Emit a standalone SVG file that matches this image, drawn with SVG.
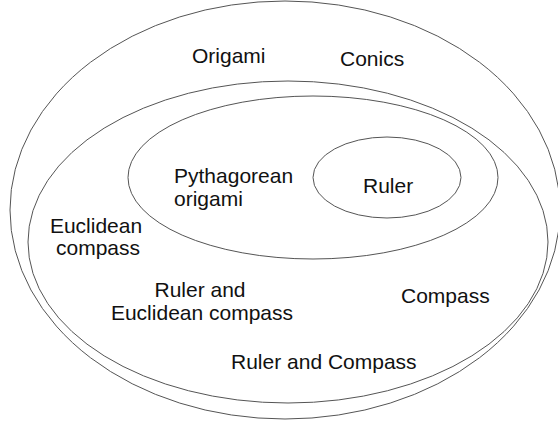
<svg xmlns="http://www.w3.org/2000/svg" width="558" height="426" viewBox="0 0 558 426">
<style>
.e{fill:none;stroke:#555;stroke-width:1}
text{font-family:"Liberation Sans",Arial,sans-serif;font-size:21px;fill:#111}
.m{text-anchor:middle}
</style>
<rect width="558" height="426" fill="#fff"/>
<g id="origami">
<ellipse class="e" cx="285" cy="210" rx="275" ry="209"/>
<text x="192" y="63">Origami</text>
<text x="340" y="66">Conics</text>
</g>
<g id="ruler-compass">
<ellipse class="e" cx="288" cy="242" rx="260" ry="161"/>
<text class="m" x="96" y="233">Euclidean</text>
<text class="m" x="98" y="255">compass</text>
<text class="m" x="200" y="297">Ruler and</text>
<text class="m" x="202" y="320">Euclidean compass</text>
<text x="401" y="303">Compass</text>
<text x="231" y="369">Ruler and Compass</text>
</g>
<g id="pythagorean">
<ellipse class="e" cx="313" cy="177.5" rx="185" ry="81.5"/>
<text x="174" y="183">Pythagorean</text>
<text x="174" y="206">origami</text>
</g>
<g id="ruler">
<ellipse class="e" cx="387" cy="177.5" rx="74" ry="40.5"/>
<text x="363" y="193">Ruler</text>
</g>
<g id="connectors"/>
</svg>
